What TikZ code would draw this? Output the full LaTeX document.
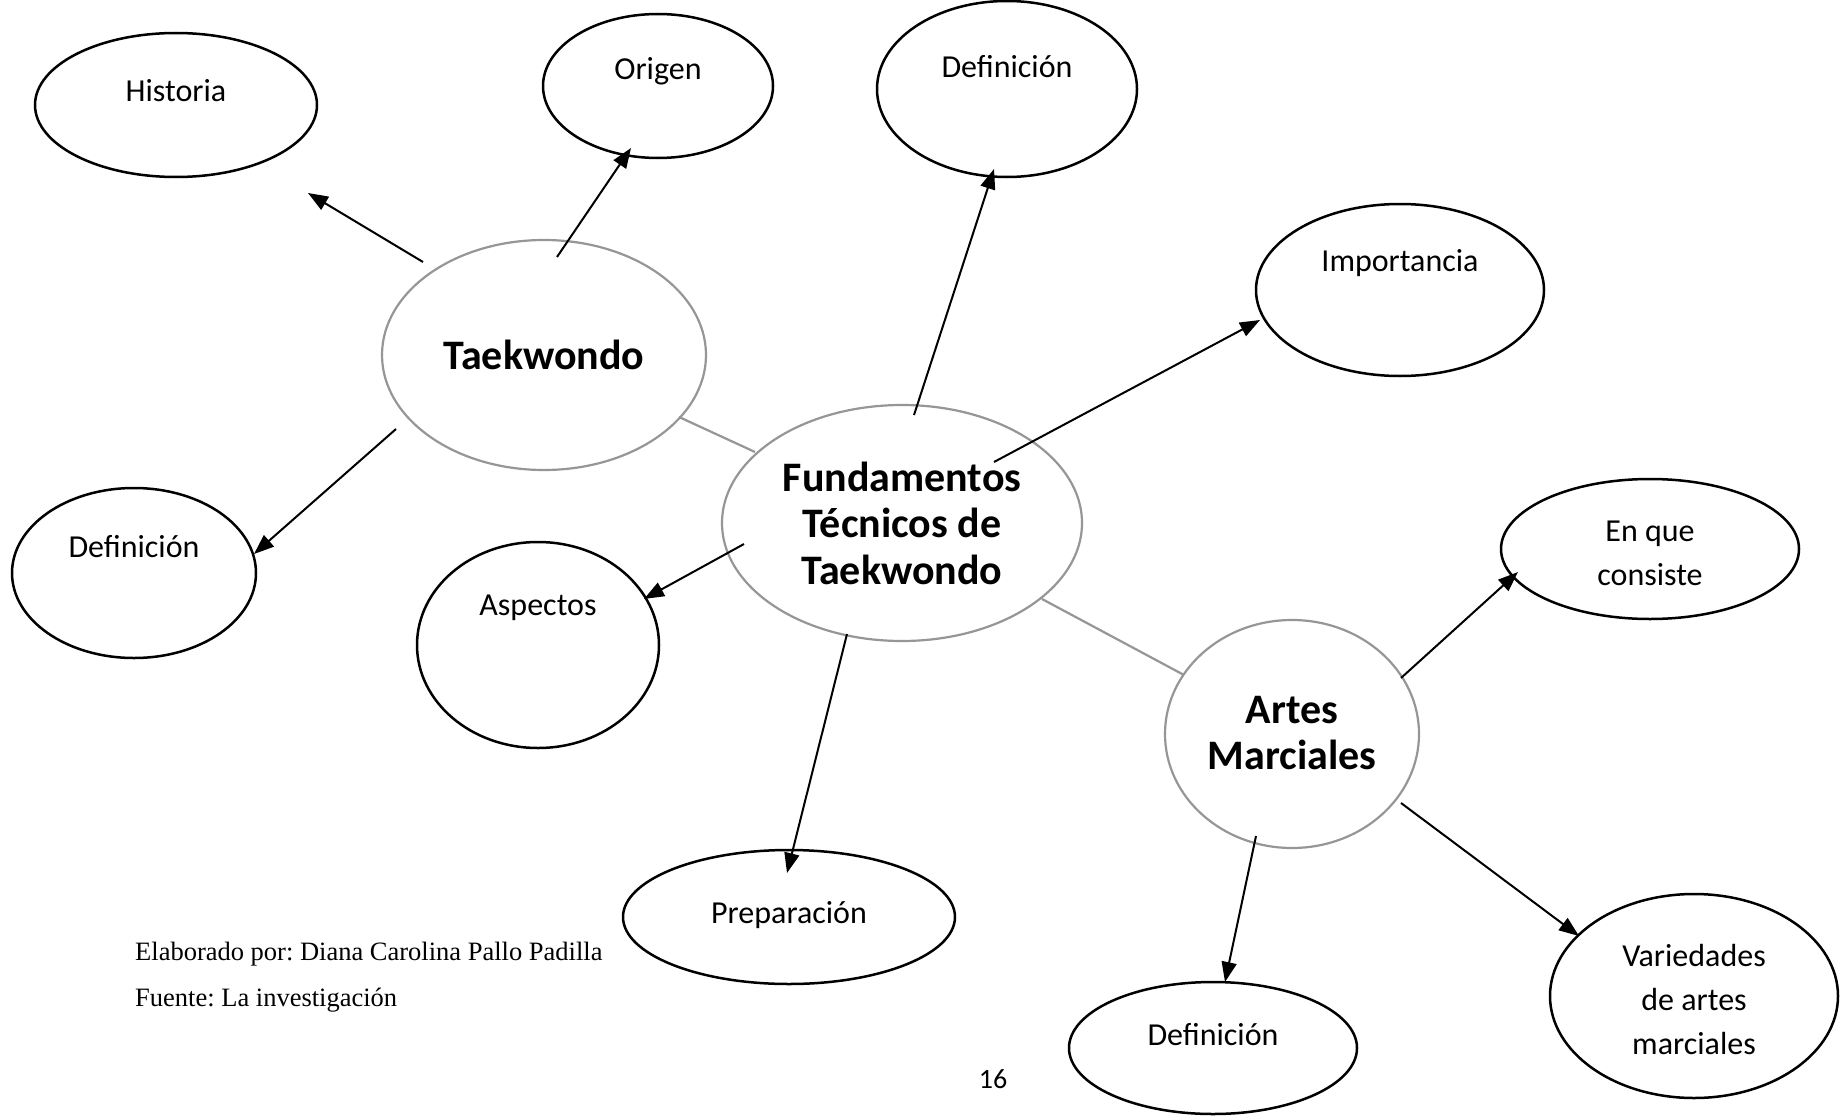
\documentclass[tikz,border=0pt]{standalone}
\usepackage{fontspec}
\setmainfont{Carlito}
\newfontfamily\timesf{Liberation Serif}
\usetikzlibrary{shapes.geometric,arrows.meta,calc}
\definecolor{ringgray}{RGB}{150,150,150}
\frenchspacing
\begin{document}
\begin{tikzpicture}[x=1pt,y=-1pt,
  bub/.style={ellipse,draw=black,line width=2.5pt,inner sep=0pt},
  hub/.style={ellipse,draw=ringgray,line width=2.2pt,inner sep=0pt},
  lbl/.style={font=\fontsize{32}{44}\selectfont,align=center,inner sep=0pt},
  big/.style={font=\fontsize{42}{46.5}\selectfont\bfseries,align=center,inner sep=0pt},
  arr/.style={line width=2pt,-{Triangle[length=20pt,width=15pt]}},
  link/.style={draw=ringgray,line width=2.2pt},
  foot/.style={font=\timesf\fontsize{26.5}{30}\selectfont,anchor=west,inner sep=0pt}]
\useasboundingbox[fill=white] (0,0) rectangle (1842,1116);
% outer ellipses
\node[bub,minimum width=282pt,minimum height=144pt] (hist) at (176,105) {};
\node[bub,minimum width=230pt,minimum height=144pt] (orig) at (658,86) {};
\node[bub,minimum width=260pt,minimum height=176pt] (defT) at (1007,89) {};
\node[bub,minimum width=288pt,minimum height=172pt] (imp) at (1400,290) {};
\node[bub,minimum width=244pt,minimum height=170pt] (defL) at (134,573) {};
\node[bub,minimum width=242pt,minimum height=206pt] (asp) at (538,645) {};
\node[bub,minimum width=298pt,minimum height=140pt] (enq) at (1650,549) {};
\node[bub,minimum width=332pt,minimum height=134pt] (prep) at (789,917) {};
\node[bub,minimum width=288pt,minimum height=132pt] (defB) at (1213,1048) {};
\node[bub,minimum width=288pt,minimum height=204pt] (var) at (1694,996) {};
% hub ellipses
\node[hub,minimum width=324pt,minimum height=230pt] (tkd) at (544,355) {};
\node[hub,minimum width=360pt,minimum height=236pt] (fund) at (902,523) {};
\node[hub,minimum width=254pt,minimum height=228pt] (artes) at (1292,734) {};
% labels
\node[lbl] (histT) at (176,91) {Historia};
\node[lbl] (origT) at (658,71.5) {Origen};
\node[lbl] (defTT) at (1007,67) {Definición};
\node[lbl] (impT) at (1400,263) {Importancia};
\node[lbl] (defLT) at (134,546.5) {Definición};
\node[lbl] (aspT) at (538,608) {Aspectos};
\node[lbl] (enqT) at (1650,553) {En que\\consiste};
\node[lbl] (prepT) at (789,915.5) {Preparación};
\node[lbl] (defBT) at (1213,1035) {Definición};
\node[lbl] (varT) at (1694,999) {Variedades\\de artes\\marciales};
\node[big] (tkdT) at (544,355) {Taekwondo};
\node[big] (fundT) at (902,523) {Fundamentos\\Técnicos de\\Taekwondo};
\node[big] (artesT) at (1292,733) {Artes\\Marciales};
% gray links
\draw[link] ($(tkd)+(135,62)$) -- ($(fund)+(-147,-71)$);
\draw[link] ($(fund)+(140,76)$) -- ($(artes)+(-108,-59)$);
% arrows
\draw[arr] ($(tkd)+(-121,-93)$) -- ($(hist)+(132,88)$);
\draw[arr] ($(tkd)+(13,-98)$) -- ($(orig)+(-27,62)$);
\draw[arr] ($(tkd)+(-148,74)$) -- ($(defL)+(120,-19)$);
\draw[arr] ($(fund)+(12,-108)$) -- ($(defT)+(-13,80)$);
\draw[arr] ($(fund)+(92,-61)$) -- ($(imp)+(-140,30)$);
\draw[arr] ($(fund)+(-158,21)$) -- ($(asp)+(106,-46)$);
\draw[arr] ($(fund)+(-55,111)$) -- ($(prep)+(-2,-44)$);
\draw[arr] ($(artes)+(109,-56)$) -- ($(enq)+(-132,23)$);
\draw[arr] ($(artes)+(-36,102)$) -- ($(defB)+(12,-66)$);
\draw[arr] ($(artes)+(109,69)$) -- ($(var)+(-115,-60)$);
% footer
\node[foot] (elab) at (135,954) {Elaborado por: Diana Carolina Pallo Padilla};
\node[foot] (fuente) at (135,1000) {Fuente: La investigación};
\node[font=\fontsize{28}{32}\selectfont,inner sep=0pt] (pg) at (993,1079) {16};
\end{tikzpicture}
\end{document}
